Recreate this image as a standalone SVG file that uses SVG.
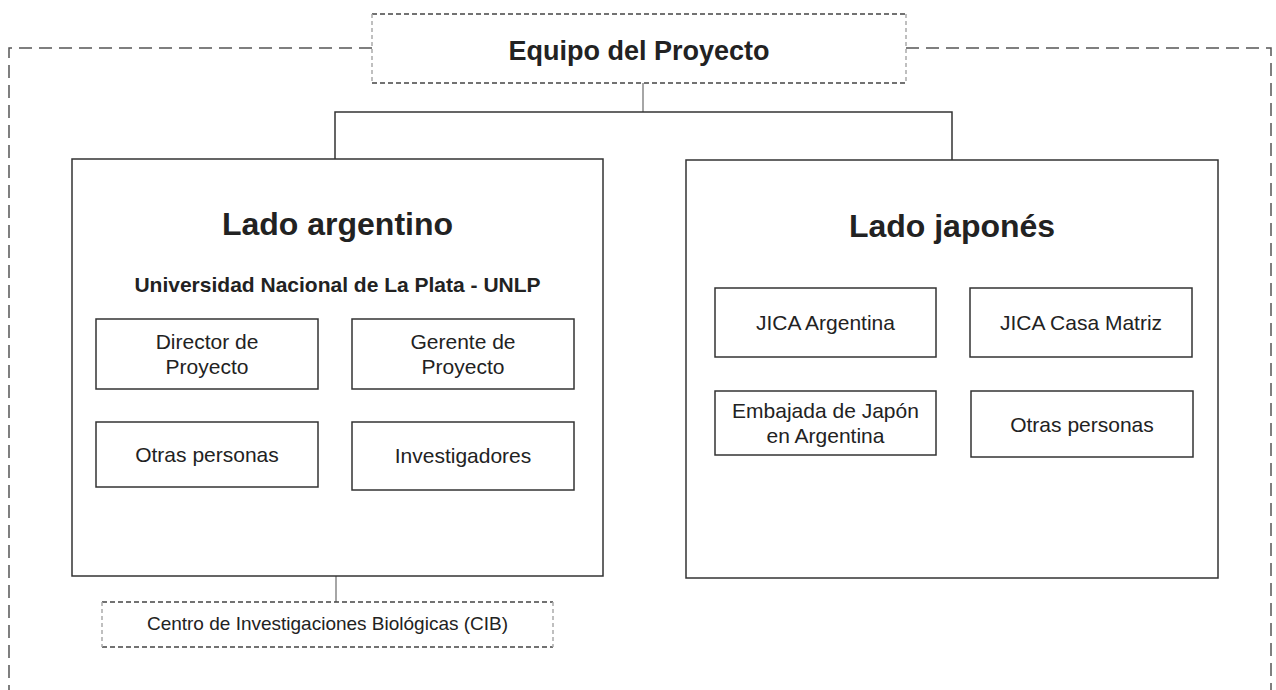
<svg xmlns="http://www.w3.org/2000/svg" width="1276" height="690" viewBox="0 0 1276 690">
<style>
  .bg{fill:#ffffff}
  .box{fill:none;stroke:#333;stroke-width:1.5}
  .outer{fill:none;stroke:#555;stroke-width:1.5;stroke-dasharray:13 7}
  .dashH{stroke:#444;stroke-width:1.5;stroke-dasharray:5 3;fill:none}
  .dashV{stroke:#aaa;stroke-width:1.5;stroke-dasharray:4 3;fill:none}
  .conn{fill:none;stroke:#333;stroke-width:1.5}
  .connl{fill:none;stroke:#888;stroke-width:1.5}
  text{font-family:"Liberation Sans",Arial,sans-serif;fill:#222;text-anchor:middle}
  .t{font-size:27px;font-weight:bold}
  .h{font-size:32px;font-weight:bold}
  .u{font-size:21px;font-weight:bold}
  .s{font-size:21px}
  .c{font-size:19px}
</style>
<rect class="bg" x="0" y="0" width="1276" height="690"/>
<g id="outer-frame">
  <path class="outer" d="M372,48 H9 V690 M906,48 H1271 V690"/>
</g>
<g id="connectors">
  <path class="connl" d="M643,83 V112"/>
  <path class="conn" d="M335,159 V112 H952 V160"/>
  <path class="connl" d="M336,576 V602"/>
</g>
<g id="equipo">
  <path class="dashH" d="M372,14 H906 M372,83 H906"/>
  <path class="dashV" d="M372,14 V83 M906,14 V83"/>
  <text class="t" x="639" y="60">Equipo del Proyecto</text>
</g>
<g id="lado-argentino">
  <rect class="box" x="72" y="159" width="531" height="417"/>
  <text class="h" x="337.5" y="235">Lado argentino</text>
  <text class="u" x="337.5" y="292">Universidad Nacional de La Plata - UNLP</text>
</g>
<g id="director">
  <rect class="box" x="96" y="319" width="222" height="70"/>
  <text class="s" x="207" y="349">Director de</text>
  <text class="s" x="207" y="374">Proyecto</text>
</g>
<g id="gerente">
  <rect class="box" x="352" y="319" width="222" height="70"/>
  <text class="s" x="463" y="349">Gerente de</text>
  <text class="s" x="463" y="374">Proyecto</text>
</g>
<g id="otras-ar">
  <rect class="box" x="96" y="422" width="222" height="65"/>
  <text class="s" x="207" y="462">Otras personas</text>
</g>
<g id="investigadores">
  <rect class="box" x="352" y="422" width="222" height="68"/>
  <text class="s" x="463" y="463">Investigadores</text>
</g>
<g id="lado-japones">
  <rect class="box" x="686" y="160" width="532" height="418"/>
  <text class="h" x="952" y="237">Lado japonés</text>
</g>
<g id="jica-argentina">
  <rect class="box" x="715" y="288" width="221" height="69"/>
  <text class="s" x="825.5" y="330">JICA Argentina</text>
</g>
<g id="jica-casa-matriz">
  <rect class="box" x="970" y="288" width="222" height="69"/>
  <text class="s" x="1081" y="330">JICA Casa Matriz</text>
</g>
<g id="embajada">
  <rect class="box" x="715" y="391" width="221" height="64"/>
  <text class="s" x="825.5" y="418">Embajada de Japón</text>
  <text class="s" x="825.5" y="443">en Argentina</text>
</g>
<g id="otras-jp">
  <rect class="box" x="971" y="391" width="222" height="66"/>
  <text class="s" x="1082" y="432">Otras personas</text>
</g>
<g id="cib">
  <path class="dashH" d="M102,602 H553 M102,647 H553"/>
  <path class="dashV" d="M102,602 V647 M553,602 V647"/>
  <text class="c" x="327.5" y="630">Centro de Investigaciones Biológicas (CIB)</text>
</g>
</svg>
